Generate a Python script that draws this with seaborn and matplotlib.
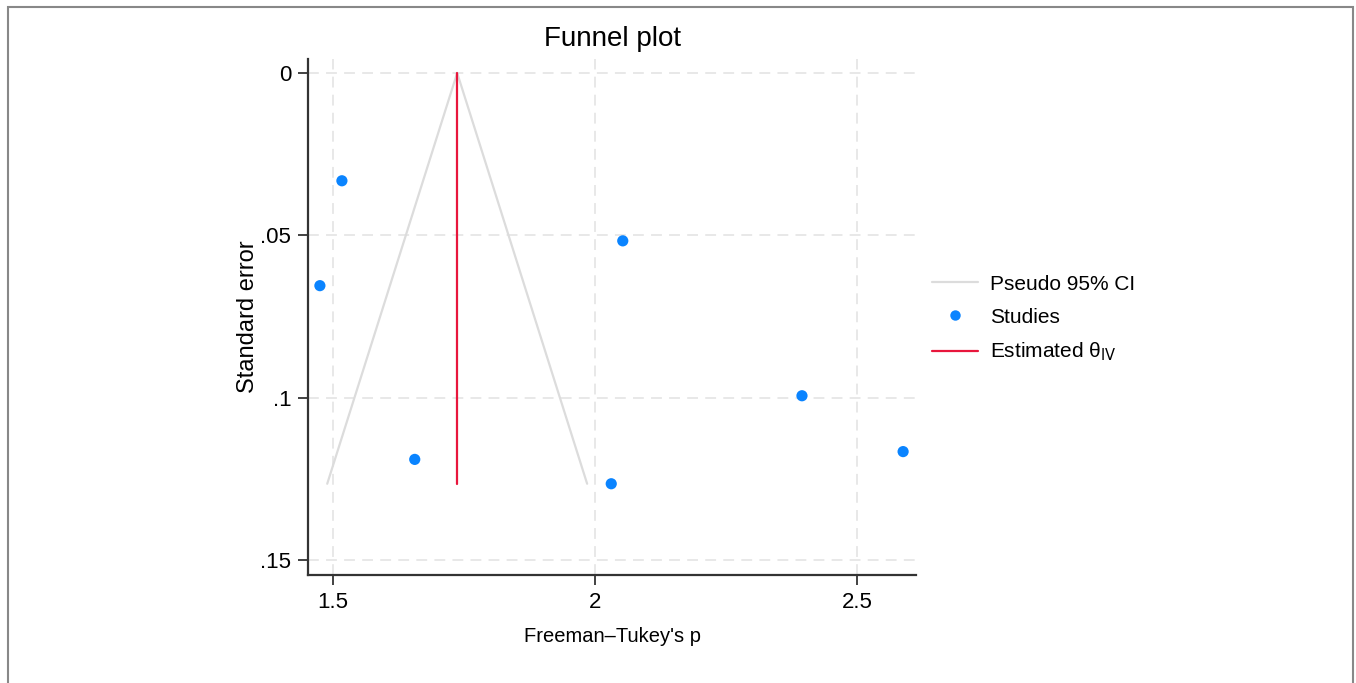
import matplotlib
matplotlib.use("Agg")
import matplotlib.pyplot as plt
import seaborn as sns
import pandas as pd
from matplotlib.lines import Line2D

# Data
study_p = [1.475, 1.517, 1.656, 2.031, 2.053, 2.395, 2.588]
study_se = [0.0655, 0.0332, 0.119, 0.1265, 0.0517, 0.0994, 0.1166]
theta_iv = 1.737
ci_se = [0.0, 0.1265]
ci_left = [1.737, 1.489]
ci_right = [1.737, 1.985]
x_ticks = [1.5, 2.0, 2.5]
x_tick_labels = ["1.5", "2", "2.5"]
y_ticks = [0.0, 0.05, 0.10, 0.15]
y_tick_labels = ["0", ".05", ".1", ".15"]

sns.set_theme(style="white")
plt.rcParams['font.family'] = ['Liberation Sans', 'DejaVu Sans']
plt.rcParams['text.color'] = 'black'
plt.rcParams['axes.labelcolor'] = 'black'

fig = plt.figure(figsize=(13.56, 6.83), dpi=100)
ax = fig.add_axes([308/1356, 1 - 575/683, (916-308)/1356, (575-59)/683])

df = pd.DataFrame({"p": study_p, "se": study_se})

ci_color = "#dcdcdc"
ax.plot(ci_left, ci_se, color=ci_color, lw=1.6, zorder=2)
ax.plot(ci_right, ci_se, color=ci_color, lw=1.6, zorder=2)
ax.plot([theta_iv, theta_iv], [ci_se[0], ci_se[1]], color="#e8163c", lw=1.6, zorder=3)
sns.scatterplot(data=df, x="p", y="se", ax=ax, color="#0a84ff", s=65,
                edgecolor="none", zorder=4, legend=False)

ax.set_xlim(1.4523, 2.6126)
ax.set_ylim(0.1546, -0.0043)
ax.set_xticks(x_ticks)
ax.set_xticklabels(x_tick_labels)
ax.set_yticks(y_ticks)
ax.set_yticklabels(y_tick_labels)

ax.grid(True, color="#e6e6e6", linestyle=(0, (6, 4)), lw=1.3)
ax.set_axisbelow(True)
for s in ["top", "right"]:
    ax.spines[s].set_visible(False)
for s in ["left", "bottom"]:
    ax.spines[s].set_color("#333333")
    ax.spines[s].set_linewidth(1.6)
ax.tick_params(axis="both", which="major", direction="out", length=7, width=1.3,
               color="#333333", labelsize=16, labelcolor="black", pad=5,
               bottom=True, left=True)

ax.set_xlabel("Freeman\u2013Tukey's p", fontsize=14.5, labelpad=10)
ax.set_ylabel("Standard error", fontsize=17, labelpad=1)
ax.set_title("Funnel plot", fontsize=20, pad=9)

handles = [
    Line2D([], [], color=ci_color, lw=1.6, label="Pseudo 95% CI"),
    Line2D([], [], color="#0a84ff", marker="o", markersize=7.5, lw=0, markeredgewidth=0, label="Studies"),
    Line2D([], [], color="#e8163c", lw=1.6, label="Estimated \u03b8$_{\\mathrm{IV}}$"),
]
fig.legend(handles=handles, loc="center left", bbox_to_anchor=(913/1356, 1 - 319/683),
           frameon=False, fontsize=15, handlelength=2.2, labelspacing=0.68, handletextpad=0.6)

# outer gray border
fig.add_artist(plt.Rectangle((8/1356, -0.01), (1353-8)/1356, 1 - 7/683 + 0.01,
                             transform=fig.transFigure, fill=False, edgecolor="#888888", lw=1.5))

fig.savefig("out.png", dpi=100, facecolor="white")
